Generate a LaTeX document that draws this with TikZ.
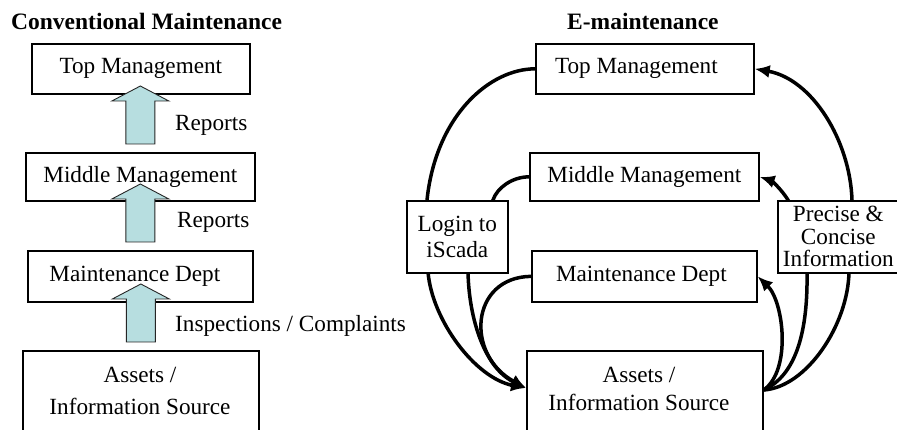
\documentclass[tikz,border=0pt]{standalone}
\usepackage{fontspec}
\setmainfont{Liberation Serif}
\usetikzlibrary{arrows.meta,calc}
\definecolor{arrowfill}{RGB}{183,222,224}

% hollow block arrow rising from the top edge of a box
\newcommand\blockup[1]{%
  \draw[blockarrow] ($(#1.north)+(-14.5,-8)$) -- ++(0,-43) -- ++(-14,0)
    -- ++(28.5,-15) -- ++(28.5,15) -- ++(-14,0) -- ++(0,43) -- cycle;}

\begin{document}
\begin{tikzpicture}[x=1pt,y=-1pt,
  every node/.style={font=\fontsize{23.2}{26}\selectfont},
  box/.style={draw, line width=1.7pt, fill=white, inner sep=0pt, anchor=north west},
  blockarrow/.style={fill=arrowfill, draw=black!85, line width=0.9pt, line join=miter},
  flow/.style={line width=3.5pt, -{Latex[length=15pt,width=13pt]}},
  title/.style={font=\fontsize{23.5}{26}\selectfont\bfseries, anchor=base west, inner sep=0pt},
  lbl/.style={anchor=base west, inner sep=0pt},
  txt/.style={anchor=base, inner sep=0pt}]

\useasboundingbox (0,0) rectangle (897,430);
\clip (0,0) rectangle (897,430);

% ---------- conventional maintenance ----------
\node[title] (ltitle) at (11,30) {Conventional Maintenance};

\node[box, minimum width=218, minimum height=50] (ltop)   at (31,43)  {Top Management};
\node[box, minimum width=229, minimum height=48] (lmid)   at (25,152) {Middle Management};
\node[box, minimum width=225, minimum height=51] (lmaint) at (27,250) {Maintenance Dept\hspace*{11pt}};
\node[box, minimum width=236, minimum height=100] (lassets) at (22,350) {};
\node[txt] (lassetsa) at (140,382) {Assets /};
\node[txt] (lassetsb) at (140,414) {Information Source};

\blockup{lmid}
\blockup{lmaint}
\blockup{lassets}

\node[lbl] (rep1) at (175,131) {Reports};
\node[lbl] (rep2) at (177,228) {Reports};
\node[lbl] (insp) at (175,332) {Inspections / Complaints};

% ---------- e-maintenance ----------
\node[title] (rtitle) at (567,30) {E-maintenance};

\node[box, minimum width=218, minimum height=50] (rtop)   at (535,43)  {Top Management\hspace*{17pt}};
\node[box, minimum width=229, minimum height=48] (rmid)   at (529,152) {Middle Management};
\node[box, minimum width=225, minimum height=51] (rmaint) at (531,250) {Maintenance Dept\hspace*{6pt}};
\node[box, minimum width=236, minimum height=100] (rassets) at (526,350) {};
\node[txt] (rassetsa) at (639,382) {Assets /};
\node[txt] (rassetsb) at (639,410) {Information Source};

\coordinate (rin)  at ($(rassets.north west)+(0,38)$);
\coordinate (rout) at ($(rassets.north east)+(0,40)$);

% requests: management -> login -> assets (passing under the login box)
\draw[flow] (rtop.west) .. controls +(-45,0) and +(9,-85) .. (427,200)
  -- (428,272) .. controls +(4,48) and +(-51,-10) .. (rin);
\draw[flow] (rmid.west) .. controls +(-17,0) and +(4,-12) .. (493,200)
  -- (468,272) .. controls +(1,48) and +(-41,-20) .. (rin);
\draw[flow] (rmaint.west) .. controls +(-61,1) and +(-61,-33) .. (rin);

% information: assets -> management (passing under the information box)
\draw[flow] (rout) .. controls +(43,-3) and +(-1,53) .. (849,272)
  -- (852,200) .. controls +(-2,-60) and +(57,10) .. (rtop.east);
\draw[flow] (rout) .. controls +(33,-15) and +(1,58) .. (807,272)
  -- (788,200) .. controls +(-6,-10) and +(12,4) .. (rmid.east);
\draw[flow] (rout) .. controls +(28,-20) and +(26,25) .. (rmaint.east);

\node[box, minimum width=101, minimum height=72, align=center] (login) at (406,200) {Login to\\iScada};
\node[box, minimum width=121, minimum height=72, align=center,
      font=\fontsize{23.2}{22.5}\selectfont] (precise) at (777,200) {Precise \&\\Concise\\Information};
\end{tikzpicture}
\end{document}
